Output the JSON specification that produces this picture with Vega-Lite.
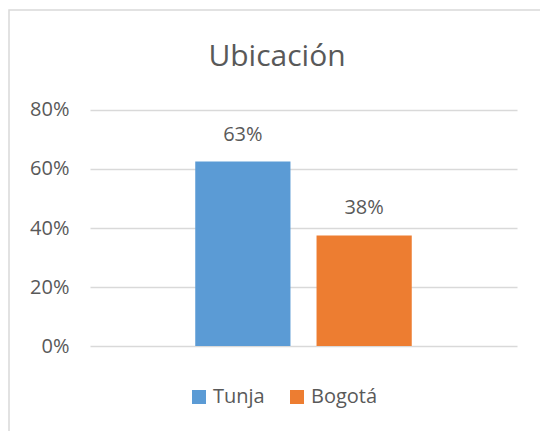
{
  "$schema": "https://vega.github.io/schema/vega-lite/v6.json",
  "autosize": {"type": "none"},
  "padding": {"left": 9, "top": 10, "right": -9, "bottom": -10},
  "width": 540,
  "height": 431,
  "background": "white",
  "title": {
    "text": "Ubicación",
    "anchor": "middle",
    "frame": "group",
    "orient": "top",
    "offset": 0,
    "baseline": "alphabetic",
    "dy": 86,
    "dx": -2,
    "font": "Open Sans",
    "fontSize": 30,
    "fontWeight": "normal",
    "color": "#595959"
  },
  "data": {
    "values": [
      {"ubicacion": "Tunja", "porcentaje": 0.625},
      {"ubicacion": "Bogotá", "porcentaje": 0.375}
    ]
  },
  "encoding": {
    "x": {
      "field": "ubicacion",
      "type": "nominal",
      "sort": ["Tunja", "Bogotá"],
      "scale": {"range": [81, 508], "paddingInner": 0.2149, "paddingOuter": 0.8678},
      "axis": null
    },
    "y": {
      "field": "porcentaje",
      "type": "quantitative",
      "scale": {"domain": [-0.32203, 1.13898], "nice": false, "zero": false},
      "axis": {
        "values": [0, 0.2, 0.4, 0.6, 0.8],
        "format": ".0%",
        "title": null,
        "orient": "left",
        "offset": -81,
        "labelPadding": 21,
        "ticks": false,
        "domain": false,
        "grid": true,
        "gridColor": "#D9D9D9",
        "gridWidth": 1.3,
        "labelFont": "Open Sans",
        "labelFontSize": 20,
        "labelColor": "#595959"
      }
    }
  },
  "layer": [
    {
      "mark": {"type": "bar"},
      "encoding": {
        "color": {
          "field": "ubicacion",
          "type": "nominal",
          "sort": ["Tunja", "Bogotá"],
          "scale": {"domain": ["Tunja", "Bogotá"], "range": ["#5B9BD5", "#ED7D31"]},
          "legend": {
            "title": null,
            "orient": "none",
            "direction": "horizontal",
            "legendX": 180,
            "legendY": 377,
            "symbolType": "square",
            "symbolSize": 196,
            "symbolStrokeWidth": 0,
            "symbolOpacity": 1,
            "labelFont": "Open Sans",
            "labelFontSize": 20,
            "labelColor": "#595959",
            "labelOffset": 4,
            "columnPadding": 22,
            "padding": 0
          }
        }
      }
    },
    {
      "mark": {
        "type": "text",
        "baseline": "alphabetic",
        "dy": -21,
        "font": "Open Sans",
        "fontSize": 20,
        "color": "#595959"
      },
      "encoding": {
        "text": {"field": "porcentaje", "type": "quantitative", "format": ".0%"}
      }
    }
  ],
  "config": {
    "view": {"stroke": "#D9D9D9", "strokeWidth": 1.5}
  }
}
